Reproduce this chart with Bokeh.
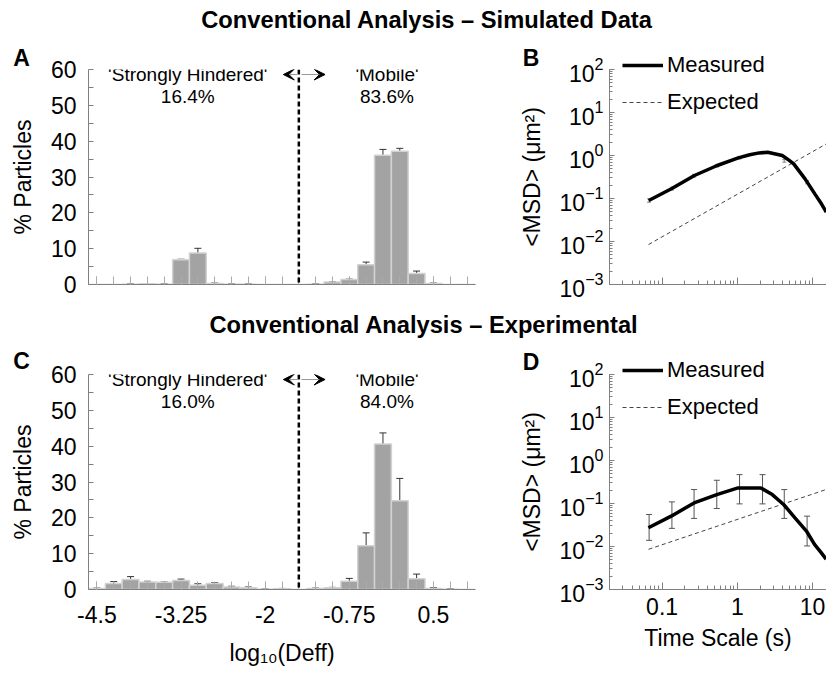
import numpy as np
from bokeh.plotting import figure
from bokeh.models import (Range1d, FixedTicker, PrintfTickFormatter, Span, Arrow, VeeHead,
                          Label, Whisker, ColumnDataSource, Legend, LegendItem, TeeHead)
from bokeh.layouts import column, row
from bokeh.embed import file_html
from bokeh.resources import INLINE

FONT = "Liberation Sans"

# ---------------- data ----------------
bins = [-4.5, -4.25, -4.0, -3.75, -3.5, -3.25, -3.0, -2.75, -2.5, -2.25, -2.0, -1.75,
        -1.5, -1.25, -1.0, -0.75, -0.5, -0.25, 0.0, 0.25, 0.5, 0.75, 1.0]
sim_pct = [0.0, 0.0, 0.1, 0.2, 0.1, 6.9, 8.8, 0.3, 0.1, 0.1, 0.0, 0.0,
           0.0, 0.1, 0.7, 1.4, 5.5, 36.1, 37.2, 3.1, 0.3, 0.0, 0.0]
sim_err = [0.0, 0.0, 0.05, 0.05, 0.05, 0.15, 1.3, 0.1, 0.05, 0.05, 0.0, 0.0,
           0.0, 0.05, 0.1, 0.1, 0.75, 1.6, 0.8, 0.65, 0.1, 0.0, 0.0]
exp_pct = [0.3, 1.7, 2.8, 2.1, 2.0, 2.5, 1.2, 1.7, 0.7, 0.5, 0.05, 0.2,
           0.0, 0.3, 0.5, 2.3, 12.2, 40.6, 24.8, 3.0, 0.3, 0.1, 0.0]
exp_err = [0.1, 0.5, 0.8, 0.2, 0.1, 0.4, 0.4, 0.2, 0.2, 0.2, 0.1, 0.1,
           0.0, 0.1, 0.1, 0.8, 3.6, 3.1, 6.2, 1.3, 0.2, 0.1, 0.0]
sim_split = ["16.4%", "83.6%"]
exp_split = ["16.0%", "84.0%"]
group_names = ["'Strongly Hindered'", "'Mobile'"]
divider = -1.5
xtick_text = ["-4.5", "-3.25", "-2", "-0.75", "0.5"]
ytick_vals = [0, 10, 20, 30, 40, 50, 60]
legend_names = ["Measured", "Expected"]
panel_letters = ["A", "B", "C", "D"]

# MSD, simulated
sim_t = [0.0664, 0.133, 0.269, 0.540, 1.03, 1.46, 1.95, 2.53, 3.95, 4.79, 5.61, 7.94, 10.7, 13.1, 15.2]
sim_msd = [0.0897, 0.168, 0.343, 0.585, 0.883, 1.04, 1.15, 1.19, 1.0, 0.79, 0.64, 0.286, 0.128, 0.0752, 0.048]
sim_eb_t = [0.067, 0.135, 0.266, 0.533, 1.07, 2.16, 4.2, 8.45]
sim_eb_lo = [0.082, 0.157, 0.315, 0.54, 0.83, 1.09, 0.70, 0.22]
sim_eb_hi = [0.098, 0.183, 0.365, 0.62, 0.95, 1.25, 0.80, 0.26]
sim_exp_t = [0.066, 15.2]
sim_exp_msd = [0.0085, 1.86]

# MSD, experimental
exp_t = [0.0658, 0.132, 0.266, 0.533, 1.02, 2.05, 2.91, 4.12, 5.83, 8.28, 10.6, 13.0, 15.1]
exp_msd = [0.0272, 0.0508, 0.103, 0.161, 0.230, 0.230, 0.161, 0.0948, 0.0465, 0.0229, 0.0112, 0.0072, 0.0051]
exp_eb_t = [0.0672, 0.135, 0.266, 0.533, 1.07, 2.16, 4.2, 8.45]
exp_eb_lo = [0.0139, 0.0264, 0.045, 0.0766, 0.098, 0.098, 0.045, 0.0103]
exp_eb_hi = [0.0556, 0.109, 0.211, 0.347, 0.469, 0.469, 0.211, 0.0508]
exp_exp_t = [0.066, 15.1]
exp_exp_msd = [0.0086, 0.211]

AXIS_COL = "#808080"
MEAS_STYLE = dict(line_color="black", line_width=3.5)
EXPD_STYLE = dict(line_color="#444444", line_width=1, line_dash="4 3")


def style_common(p):
    p.grid.visible = False
    p.outline_line_color = None
    p.background_fill_color = "white"
    p.border_fill_color = "white"
    for ax in p.axis:
        ax.axis_line_color = AXIS_COL
        ax.major_tick_line_color = AXIS_COL
        ax.minor_tick_line_color = AXIS_COL
        ax.major_tick_out = 0
        ax.minor_tick_out = 0
        ax.major_label_text_font = FONT
        ax.major_label_text_font_size = "23px"
        ax.major_label_text_color = "black"
        ax.axis_label_text_font = FONT
        ax.axis_label_text_font_size = "23px"
        ax.axis_label_text_font_style = "normal"
        ax.axis_label_text_color = "black"


def hist_panel(pct, err, split, h, top, bottom, show_labels):
    p = figure(width=515, height=h, x_range=Range1d(-4.625, 1.125), y_range=Range1d(0, 60),
               output_backend="svg", toolbar_location=None,
               min_border_left=88, min_border_right=40, min_border_top=top, min_border_bottom=bottom)
    style_common(p)
    src = ColumnDataSource(dict(x=bins, top=pct))
    p.vbar(x="x", top="top", bottom=0, width=0.25, source=src,
           fill_color="#a3a3a3", line_color="#d2d2d2", line_width=1.5)
    keep = [i for i in range(len(bins)) if pct[i] > 0]
    esrc = ColumnDataSource(dict(x=[bins[i] for i in keep],
                                 lo=[pct[i] - err[i] for i in keep],
                                 hi=[pct[i] + err[i] for i in keep]))
    p.add_layout(Whisker(base="x", lower="lo", upper="hi", source=esrc,
                         line_color="#333333", line_width=1,
                         upper_head=TeeHead(size=7, line_color="#333333", line_width=1),
                         lower_head=TeeHead(size=7, line_color="#333333", line_width=1)))
    p.add_layout(Span(location=divider, dimension="height", line_color="black",
                      line_width=2.5, line_dash="5 3"))
    ya = 58.6
    p.add_layout(Arrow(x_start=divider - 0.02, y_start=ya, x_end=-1.73, y_end=ya,
                       line_color="#999999", line_width=1,
                       end=VeeHead(size=11, fill_color="black", line_color="black")))
    p.add_layout(Arrow(x_start=divider + 0.04, y_start=ya, x_end=-1.11, y_end=ya,
                       line_color="#999999", line_width=1,
                       end=VeeHead(size=11, fill_color="black", line_color="black")))
    for xc, name, val in [(-3.15, group_names[0], split[0]), (-0.19, group_names[1], split[1])]:
        p.add_layout(Label(x=xc, y=ya, text=name, text_align="center", text_baseline="middle",
                           text_font=FONT, text_font_size="19px", text_color="black"))
        p.add_layout(Label(x=xc, y=52.5, text=val, text_align="center", text_baseline="middle",
                           text_font=FONT, text_font_size="19px", text_color="black"))
    p.yaxis.ticker = FixedTicker(ticks=ytick_vals, minor_ticks=[v + 5 for v in ytick_vals[:-1]])
    p.yaxis.major_tick_in = 5
    p.yaxis.minor_tick_in = 5
    p.yaxis.axis_label = "% Particles"
    p.yaxis.major_label_standoff = 12
    p.yaxis.axis_label_standoff = 12
    p.xaxis.ticker = FixedTicker(ticks=[float(s) for s in xtick_text], minor_ticks=bins)
    p.xaxis.major_tick_in = 8
    p.xaxis.minor_tick_in = 8
    p.xaxis.major_tick_line_color = "#aaaaaa"
    p.xaxis.minor_tick_line_color = "#aaaaaa"
    if show_labels:
        p.xaxis.major_label_overrides = {float(s): s for s in xtick_text}
        p.xaxis.major_label_standoff = 16
        p.xaxis.axis_label = "log\u2081\u2080(Deff)"
        p.xaxis.axis_label_standoff = 14
    else:
        p.xaxis.formatter = PrintfTickFormatter(format="")
    return p


def msd_panel(t, msd, eb_t, eb_lo, eb_hi, et, emsd, h, top, bottom, show_labels, eb_col, cap):
    p = figure(width=311, height=h, x_axis_type="log", y_axis_type="log",
               x_range=Range1d(0.02, 15.3), y_range=Range1d(1e-3, 1e2),
               output_backend="svg", toolbar_location=None,
               min_border_left=89, min_border_right=0, min_border_top=top, min_border_bottom=bottom)
    style_common(p)
    esrc = ColumnDataSource(dict(x=eb_t, lo=eb_lo, hi=eb_hi))
    p.add_layout(Whisker(base="x", lower="lo", upper="hi", source=esrc,
                         line_color=eb_col, line_width=1,
                         upper_head=TeeHead(size=cap, line_color=eb_col, line_width=1),
                         lower_head=TeeHead(size=cap, line_color=eb_col, line_width=1)))
    p.line(et, emsd, **EXPD_STYLE)
    p.line(t, msd, **MEAS_STYLE)
    p.yaxis.major_tick_in = 5
    p.yaxis.minor_tick_in = 3
    p.yaxis.major_label_standoff = 6
    p.yaxis.axis_label = "<MSD> (\u03bcm\u00b2)"
    p.yaxis.axis_label_standoff = 12
    p.xaxis.major_tick_in = 7
    p.xaxis.minor_tick_in = 4
    if show_labels:
        p.xaxis.formatter = PrintfTickFormatter(format="%g")
        p.xaxis.major_label_standoff = 8
        p.xaxis.axis_label = "Time Scale (s)"
        p.xaxis.axis_label_standoff = 7
    else:
        p.xaxis.formatter = PrintfTickFormatter(format="")
    return p


def title_fig(text, h, cx, cy):
    t = figure(width=826, height=h, x_range=Range1d(0, 826), y_range=Range1d(0, h),
               output_backend="svg", toolbar_location=None, min_border=0,
               x_axis_location=None, y_axis_location=None, outline_line_color=None)
    t.grid.visible = False
    t.add_layout(Label(x=cx, y=h - cy, text=text, text_align="center", text_baseline="middle",
                       text_font=FONT, text_font_size="23.7px", text_font_style="bold",
                       text_color="black"))
    return t


t1 = title_fig("Conventional Analysis \u2013 Simulated Data", 40, 426.5, 19.7)
pa = hist_panel(sim_pct, sim_err, sim_split, 265, 28, 20, False)
pb = msd_panel(sim_t, sim_msd, sim_eb_t, sim_eb_lo, sim_eb_hi, sim_exp_t, sim_exp_msd,
               265, 29, 21, False, "#888888", 4)
t2 = title_fig("Conventional Analysis \u2013 Experimental", 35, 423.5, 19.5)
pc = hist_panel(exp_pct, exp_err, exp_split, 330, 34, 79, True)
pd_ = msd_panel(exp_t, exp_msd, exp_eb_t, exp_eb_lo, exp_eb_hi, exp_exp_t, exp_exp_msd,
                330, 33, 81, True, "#555555", 6)

# ---- transparent overlay for panel letters and legends (drawn above the frames) ----
H = 670
ov = figure(width=826, height=H, x_range=Range1d(0, 826), y_range=Range1d(0, H),
            output_backend="svg", toolbar_location=None, min_border=0,
            x_axis_location=None, y_axis_location=None, outline_line_color=None,
            margin=(-H, 0, 0, 0))
ov.grid.visible = False
ov.background_fill_alpha = 0
ov.border_fill_alpha = 0
for txt, (lx, ly) in zip(panel_letters, [(21, 57.5), (530.5, 57.5), (21, 360.5), (530.5, 361.5)]):
    ov.add_layout(Label(x=lx, y=H - ly, text=txt, text_align="center", text_baseline="middle",
                        text_font=FONT, text_font_size="23px", text_font_style="bold",
                        text_color="black"))
# legend keys only (no visible data in the overlay)
nan_src = ColumnDataSource(dict(x=np.array([np.nan]), y=np.array([np.nan])))
k1 = ov.line(x="x", y="y", source=nan_src, **MEAS_STYLE)
k2 = ov.line(x="x", y="y", source=nan_src, **EXPD_STYLE)
for top_y in [52.0, 356.5]:
    ov.add_layout(Legend(items=[LegendItem(label=legend_names[0], renderers=[k1]),
                                LegendItem(label=legend_names[1], renderers=[k2])],
                         location=(622, H - top_y - 63), padding=0, margin=0, spacing=11,
                         glyph_width=41, glyph_height=26, label_height=26, label_standoff=4,
                         label_text_font=FONT, label_text_font_size="22px",
                         label_text_color="black",
                         border_line_color=None, background_fill_alpha=0))

layout = column(t1, row(pa, pb), t2, row(pc, pd_), ov)
open("out.html", "w").write(file_html(layout, INLINE))
